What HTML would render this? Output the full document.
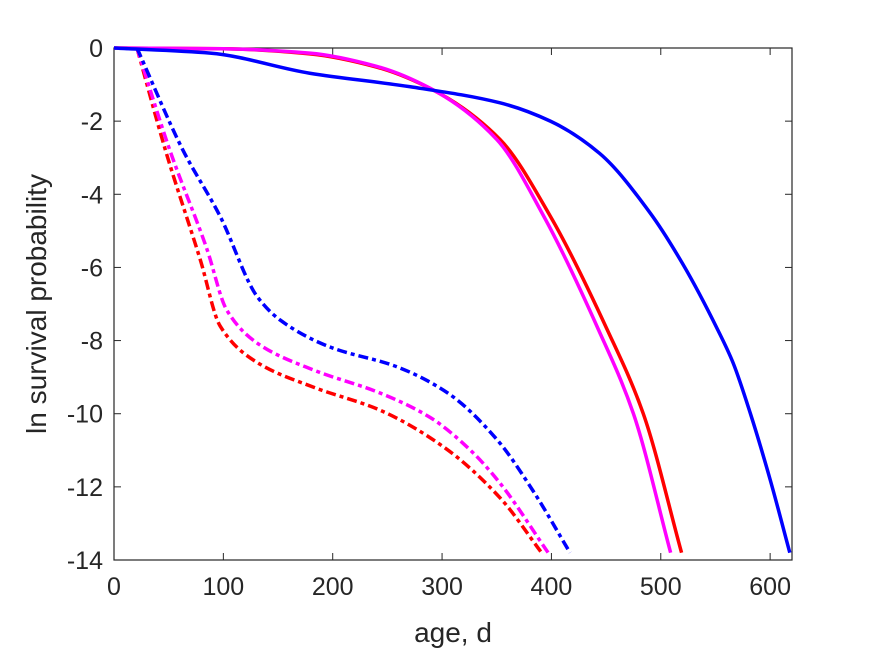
<!DOCTYPE html>
<html><head><meta charset="utf-8"><style>
body{margin:0;background:#fff;}
svg{display:block;font-family:"Liberation Sans",sans-serif;}
</style></head><body>
<svg id="chart" width="875" height="656"></svg>
<script>
const xTicks=[0,100,200,300,400,500,600];
const yTicks=[0,-2,-4,-6,-8,-10,-12,-14];
const blueSolidX=[0,88,179,271,353,399,444,490,520,552,566,582,600,618];
const blueSolidY=[0,-0.14,-0.69,-1.06,-1.5,-2.0,-2.88,-4.5,-5.9,-7.7,-8.6,-10,-11.8,-13.8];
const redSolidX=[0,100,179,240,292,353,399,451,484,519];
const redSolidY=[0,-0.02,-0.16,-0.52,-1.15,-2.5,-4.6,-7.7,-10,-13.8];
const magSolidX=[0,100,179,240,289,350,393,443,475,509];
const magSolidY=[0,-0.02,-0.14,-0.5,-1.1,-2.5,-4.6,-7.7,-10,-13.8];
const blueDashX=[21,63,97,131,152,197,259,305,350,383,417];
const blueDashY=[0,-2.79,-4.6,-6.8,-7.44,-8.17,-8.72,-9.43,-10.7,-12.1,-13.8];
const redDashX=[21,47,79,97,131,182,243,301,353,391];
const redDashY=[0,-2.79,-5.8,-7.6,-8.6,-9.27,-9.9,-10.9,-12.3,-13.8];
const magDashX=[21,51,85,103,131,182,243,289,326,353,397];
const magDashY=[0,-2.79,-5.5,-7.16,-8.07,-8.8,-9.43,-10.1,-11.0,-11.9,-13.8];

const L=114,R=792,T=48,B=560,xmin=0,xmax=620,ymin=-14,ymax=0;
const sx=v=>L+(v-xmin)/(xmax-xmin)*(R-L);
const sy=v=>T+(ymax-v)/(ymax-ymin)*(B-T);
const svg=document.getElementById('chart');
const NS='http://www.w3.org/2000/svg';
function mk(t,a){const e=document.createElementNS(NS,t);for(const k in a)e.setAttribute(k,a[k]);svg.appendChild(e);return e;}
const frame=mk('rect',{x:L,y:T,width:R-L,height:B-T,fill:'none',stroke:'#262626','stroke-width':1.2});


xTicks.forEach(v=>{
 const x=sx(v);
 const t1=mk('line',{x1:x,y1:B,x2:x,y2:B-7,stroke:'#262626'});
 
 
 const t2=mk('line',{x1:x,y1:T,x2:x,y2:T+7,stroke:'#262626'});
 
 
 const tx=mk('text',{x:x,y:B+35,'text-anchor':'middle','font-size':25,fill:'#262626'});
 tx.textContent=v;
 
 
});
yTicks.forEach(v=>{
 const y=sy(v);
 const t1=mk('line',{x1:L,y1:y,x2:L+7,y2:y,stroke:'#262626'});
 
 
 const t2=mk('line',{x1:R,y1:y,x2:R-7,y2:y,stroke:'#262626'});
 
 
 const tx=mk('text',{x:L-11,y:y+9,'text-anchor':'end','font-size':25,fill:'#262626'});
 tx.textContent=v;
 
 
});
const xl=mk('text',{x:(L+R)/2,y:642,'text-anchor':'middle','font-size':28,fill:'#262626'});
xl.textContent='age, d';


const yl=mk('text',{x:0,y:0,'text-anchor':'middle','font-size':28,fill:'#262626',transform:'translate(46,'+((T+B)/2)+') rotate(-90)'});
yl.textContent='ln survival probability';


// monotone cubic (Fritsch-Carlson) in screen space
function path(xs,ys){
 const X=xs.map(sx),Y=ys.map(sy),n=X.length;
 const d=[],m=new Array(n);
 for(let i=0;i<n-1;i++)d.push((Y[i+1]-Y[i])/(X[i+1]-X[i]));
 m[0]=d[0];m[n-1]=d[n-2];
 for(let i=1;i<n-1;i++){
  if(d[i-1]*d[i]<=0)m[i]=0;
  else{const h0=X[i]-X[i-1],h1=X[i+1]-X[i];const w1=2*h1+h0,w2=h1+2*h0;m[i]=(w1+w2)/(w1/d[i-1]+w2/d[i]);}
 }
 let s='M'+X[0]+','+Y[0];
 for(let i=0;i<n-1;i++){
  const h=(X[i+1]-X[i])/3;
  s+=' C'+(X[i]+h)+','+(Y[i]+m[i]*h)+' '+(X[i+1]-h)+','+(Y[i+1]-m[i+1]*h)+' '+X[i+1]+','+Y[i+1];
 }
 return s;
}
function series(xs,ys,color,dash,name){
 const e=mk('path',{d:path(xs,ys),fill:'none',stroke:color,'stroke-width':3.5,'stroke-dasharray':dash});
 
 
}
series(redDashX,redDashY,'#ff0000','10,4,4,4','red-dashdot-line');
series(magDashX,magDashY,'#ff00ff','10,4,4,4','magenta-dashdot-line');
series(blueDashX,blueDashY,'#0000ff','10,4,4,4','blue-dashdot-line');
series(redSolidX,redSolidY,'#ff0000','none','red-solid-line');
series(magSolidX,magSolidY,'#ff00ff','none','magenta-solid-line');
series(blueSolidX,blueSolidY,'#0000ff','none','blue-solid-line');
</script>
</body></html>
